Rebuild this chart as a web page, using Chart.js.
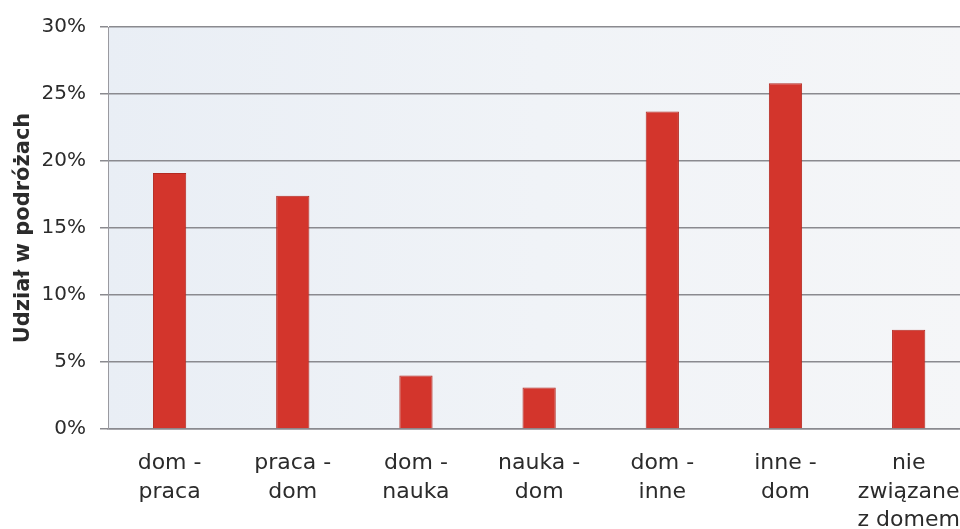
<!DOCTYPE html>
<html>
<head>
<meta charset="utf-8">
<script src="https://cdn.jsdelivr.net/npm/chart.js@4/dist/chart.umd.min.js"></script>
<style>
  html, body { margin: 0; padding: 0; background: #fff; overflow: hidden; }
  #wrap { width: 980px; height: 545px; }
</style>
</head>
<body>
<div id="wrap"><canvas id="chart" width="980" height="545"></canvas></div>
<script>
// Data
const categories = [
  ["dom -", "praca"],
  ["praca -", "dom"],
  ["dom -", "nauka"],
  ["nauka -", "dom"],
  ["dom -", "inne"],
  ["inne -", "dom"],
  ["nie", "związane", "z domem"]
];
const shares = [19.1, 17.4, 4.0, 3.1, 23.7, 25.8, 7.4];
const yTicks = [0, 5, 10, 15, 20, 25, 30];

const FONT = "'DejaVu Sans', Verdana, sans-serif";
const TEXT = "#2b2b2b";

// Plot-area background (light bluish gradient like the scan)
const plotBg = {
  id: "plotBg",
  beforeDraw(chart) {
    const { ctx, chartArea: a } = chart;
    const g = ctx.createLinearGradient(a.left, 0, a.right, 0);
    g.addColorStop(0, "#e9eef5");
    g.addColorStop(0.5, "#f0f3f7");
    g.addColorStop(1, "#f5f6f8");
    ctx.save();
    ctx.fillStyle = g;
    ctx.fillRect(a.left, a.top, a.right - a.left, a.bottom - a.top);
    ctx.restore();
  }
};

const ctx = document.getElementById("chart").getContext("2d");
new Chart(ctx, {
  type: "bar",
  data: {
    labels: categories,
    datasets: [{
      data: shares,
      backgroundColor: "#d3352c",
      borderColor: "#b32a22",
      borderWidth: 1,
      categoryPercentage: 0.54,
      barPercentage: 0.5
    }]
  },
  options: {
    responsive: false,
    animation: false,
    layout: { padding: { top: 27, right: 2, left: 0, bottom: 0 } },
    plugins: {
      legend: { display: false },
      tooltip: { enabled: false }
    },
    scales: {
      x: {
        grid: { display: false, drawTicks: false },
        border: { display: true, color: "#8a8a8f", width: 1.5 },
        ticks: {
          color: TEXT,
          font: { family: FONT, size: 22, lineHeight: 1.3 },
          padding: 20,
          maxRotation: 0,
          autoSkip: false
        },
        afterFit(s) { s.height = 116; }
      },
      y: {
        min: 0,
        max: 30,
        afterBuildTicks(s) { s.ticks = yTicks.map(v => ({ value: v })); },
        grid: { color: "#8a8a8f", lineWidth: 1.5, tickLength: 8 },
        border: { display: true, color: "#9a9aa0", width: 1 },
        ticks: {
          color: TEXT,
          font: { family: FONT, size: 20 },
          padding: 14,
          callback: v => v + "%"
        },
        title: {
          display: true,
          text: "Udział w podróżach",
          color: TEXT,
          font: { family: FONT, size: 21, weight: "bold" },
          padding: { top: 11, bottom: 0 }
        },
        afterFit(s) { s.width = 108; }
      }
    }
  },
  plugins: [plotBg]
});
</script>
</body>
</html>
